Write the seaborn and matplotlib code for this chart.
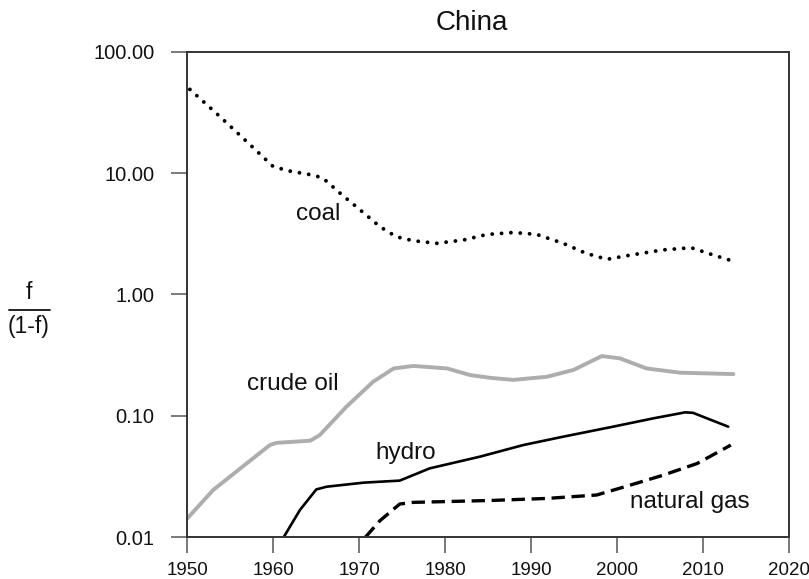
import matplotlib
matplotlib.use("Agg")
import matplotlib.pyplot as plt
import seaborn as sns
import numpy as np
from matplotlib.ticker import FixedLocator, FixedFormatter, NullLocator
from matplotlib.lines import Line2D

# ---------------- data ----------------
coal_years = [1950.3, 1953.8, 1956.9, 1960.0, 1961.9, 1964.7, 1965.8, 1967.8, 1970.1, 1972.4,
              1974.3, 1976.3, 1979.0, 1982.1, 1984.8, 1987.9, 1990.6, 1993.7, 1996.4, 1998.8,
              2001.5, 2005.3, 2008.6, 2011.2, 2013.7]
coal_vals = [48.9, 29.2, 18.2, 11.3, 10.4, 9.6, 9.06, 6.8, 4.97, 3.62,
             2.99, 2.77, 2.64, 2.81, 3.12, 3.24, 3.13, 2.64, 2.18, 1.95,
             2.11, 2.33, 2.43, 2.11, 1.86]

oil_years = [1950.0, 1953.0, 1956.9, 1959.6, 1960.4, 1964.3, 1965.4, 1968.5, 1971.6, 1974.0,
             1976.3, 1980.2, 1982.9, 1985.2, 1987.9, 1991.8, 1994.9, 1998.2, 2000.3, 2003.4,
             2007.3, 2013.5]
oil_vals = [0.0143, 0.0245, 0.0406, 0.0575, 0.060, 0.0625, 0.0695, 0.119, 0.191, 0.246,
            0.258, 0.246, 0.217, 0.206, 0.198, 0.210, 0.239, 0.311, 0.298, 0.246,
            0.227, 0.221]

hydro_years = [1961.2, 1963.1, 1965.0, 1966.2, 1970.5, 1974.7, 1978.2, 1984.0, 1989.1, 1993.7,
               1999.5, 2004.2, 2007.9, 2008.8, 2012.9]
hydro_vals = [0.010, 0.0168, 0.0248, 0.0261, 0.0282, 0.0293, 0.037, 0.0461, 0.0576, 0.0674,
              0.0815, 0.0955, 0.107, 0.106, 0.0815]

gas_years = [1970.7, 1972.4, 1974.7, 1976.3, 1985.2, 1991.8, 1997.6, 2001.5, 2005.4, 2009.3, 2013.2]
gas_vals = [0.010, 0.0137, 0.0188, 0.0194, 0.0201, 0.0209, 0.0223, 0.0269, 0.0326, 0.0406, 0.0575]

series_labels = ["coal", "crude oil", "hydro", "natural gas"]
label_x = [1965.2, 1962.3, 1975.4, 2008.45]
label_y = [4.6, 0.183, 0.0498, 0.0196]

x_ticks = [1950, 1960, 1970, 1980, 1990, 2000, 2010, 2020]
y_ticks = [0.01, 0.1, 1, 10, 100]
y_tick_labels = ["0.01", "0.10", "1.00", "10.00", "100.00"]
title = "China"

# ---------------- style ----------------
sns.set_style("white")
plt.rcParams["font.family"] = ["Liberation Sans", "DejaVu Sans"]

W, H = 809, 579
fig = plt.figure(figsize=(W / 100, H / 100), dpi=100)
L, R, T, B = 187.3, 789.3, 51.7, 537.3
ax = fig.add_axes([L / W, 1 - B / H, (R - L) / W, (B - T) / H])

sns.lineplot(x=coal_years, y=coal_vals, ax=ax, color="black", lw=2.8,
             linestyle=(0, (0.01, 2.4)), dash_capstyle="round", solid_capstyle="round")
sns.lineplot(x=oil_years, y=oil_vals, ax=ax, color="#adadad", lw=2.8)
sns.lineplot(x=hydro_years, y=hydro_vals, ax=ax, color="black", lw=1.9)
sns.lineplot(x=gas_years, y=gas_vals, ax=ax, color="black", lw=2.4,
             linestyle=(0, (4.0, 2.0)), dash_capstyle="butt")

ax.set_yscale("log")
ax.set_xlim(1950, 2020)
ax.set_ylim(0.01, 100)
ax.xaxis.set_major_locator(FixedLocator(x_ticks))
ax.set_xticklabels([str(v) for v in x_ticks])
ax.yaxis.set_major_locator(FixedLocator(y_ticks))
ax.yaxis.set_major_formatter(FixedFormatter(y_tick_labels))
ax.yaxis.set_minor_locator(NullLocator())
ax.xaxis.set_minor_locator(NullLocator())
ax.set_xlabel("")
ax.set_ylabel("")

for s in ax.spines.values():
    s.set_visible(True)
    s.set_color("#333333")
    s.set_linewidth(1.4)

ax.tick_params(axis="both", which="major", direction="out", length=11.5, width=1.1,
               color="#555555", labelcolor="#111111")
ax.tick_params(axis="x", pad=6, bottom=True, top=False, labelsize=13.5)
ax.tick_params(axis="y", pad=12, left=True, right=False, labelsize=14.5)

for lab, lx, ly in zip(series_labels, label_x, label_y):
    ax.text(lx, ly, lab, ha="center", va="center", fontsize=17.5, color="#111111")

fig.text(471.7 / W, 1 - 23.3 / H, title, ha="center", va="center", fontsize=20, color="#111111")

# y-axis label as a fraction f / (1-f)
fig.text(29 / W, 1 - 293 / H, "f", ha="center", va="center", fontsize=16.5, color="#111111")
fig.text(29 / W, 1 - 326 / H, "(1-f)", ha="center", va="center", fontsize=16.5, color="#111111")
fig.add_artist(Line2D([8.5 / W, 49.5 / W], [1 - 309.5 / H, 1 - 309.5 / H],
                      transform=fig.transFigure, color="#111111", lw=1.3))

fig.savefig("out.png", dpi=100)
